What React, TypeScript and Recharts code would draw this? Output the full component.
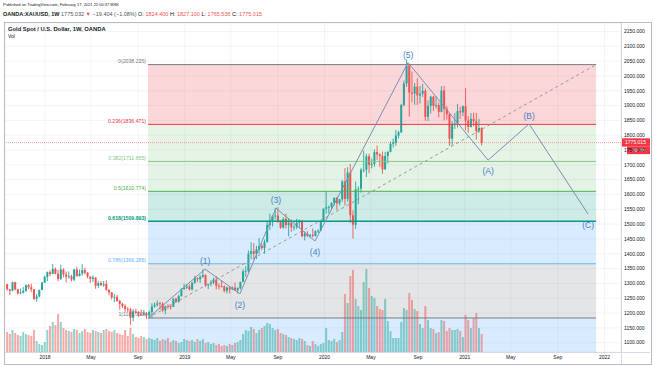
import React from 'react';
import {
  ComposedChart, Bar, Line, XAxis, YAxis, CartesianGrid,
  ReferenceArea, ReferenceLine, LabelList,
} from 'recharts';

// ---------- time helpers ----------
const EPOCH = Date.UTC(2018, 0, 1);
const toDay = (s: string) => Math.round((Date.parse(s + 'T00:00:00Z') - EPOCH) / 86400000);

// ---------- weekly candles (OANDA:XAUUSD, 1W) ----------
const FIRST_WEEK = '2017-09-25';
const ohlc: [number, number, number, number][] = [
  [1297, 1298, 1276, 1280], [1280, 1282, 1261, 1275], [1275, 1306, 1274, 1304], [1304, 1306, 1277, 1280],
  [1280, 1282, 1263, 1266], [1266, 1283, 1264, 1269], [1269, 1288, 1266, 1275], [1275, 1296, 1271, 1294],
  [1294, 1298, 1280, 1287], [1287, 1299, 1271, 1280], [1280, 1281, 1243, 1248], [1248, 1265, 1238, 1256],
  [1256, 1279, 1253, 1278], [1278, 1305, 1277, 1303],
  // 2018
  [1303, 1326, 1301, 1322], [1322, 1340, 1307, 1338], [1338, 1344, 1325, 1332], [1332, 1366, 1331, 1349],
  [1349, 1354, 1331, 1333], [1333, 1346, 1307, 1315], [1315, 1362, 1311, 1347], [1347, 1351, 1320, 1330],
  [1330, 1340, 1303, 1323], [1323, 1340, 1316, 1324], [1324, 1329, 1307, 1313], [1313, 1349, 1308, 1347],
  [1347, 1356, 1322, 1325], [1325, 1347, 1323, 1333], [1333, 1365, 1326, 1345], [1345, 1353, 1330, 1336],
  [1336, 1338, 1317, 1323], [1323, 1324, 1302, 1315], [1315, 1327, 1305, 1320], [1320, 1321, 1282, 1292],
  [1292, 1308, 1284, 1301], [1301, 1308, 1291, 1294], [1294, 1308, 1288, 1298], [1298, 1310, 1275, 1278],
  [1278, 1280, 1260, 1270], [1270, 1271, 1246, 1253], [1253, 1265, 1237, 1255], [1255, 1262, 1238, 1241],
  [1241, 1245, 1211, 1231], [1231, 1235, 1217, 1223], [1223, 1230, 1204, 1214], [1214, 1220, 1203, 1212],
  [1212, 1218, 1160, 1184], [1184, 1214, 1172, 1206], [1206, 1215, 1196, 1201], [1201, 1207, 1187, 1198],
  [1198, 1212, 1191, 1194], [1194, 1211, 1193, 1199], [1199, 1204, 1180, 1192], [1192, 1208, 1182, 1203],
  [1203, 1233, 1183, 1222], [1222, 1236, 1218, 1228], [1228, 1243, 1222, 1233], [1233, 1238, 1212, 1232],
  [1232, 1237, 1203, 1209], [1209, 1225, 1196, 1223], [1223, 1231, 1214, 1222], [1222, 1229, 1212, 1221],
  [1221, 1250, 1221, 1248], [1248, 1252, 1236, 1238], [1238, 1262, 1235, 1257], [1257, 1284, 1256, 1280],
  [1280, 1299, 1280, 1286],
  // 2019
  [1286, 1298, 1281, 1290], [1290, 1297, 1276, 1280], [1280, 1304, 1276, 1303], [1303, 1326, 1298, 1318],
  [1318, 1320, 1305, 1314], [1314, 1328, 1302, 1322], [1322, 1347, 1319, 1328], [1328, 1331, 1288, 1294],
  [1294, 1299, 1281, 1298], [1298, 1311, 1290, 1303], [1303, 1320, 1297, 1313], [1313, 1325, 1280, 1292],
  [1292, 1300, 1280, 1291], [1291, 1311, 1286, 1290], [1290, 1293, 1270, 1275], [1275, 1289, 1266, 1286],
  [1286, 1289, 1266, 1280], [1280, 1290, 1277, 1286], [1286, 1303, 1274, 1277], [1277, 1287, 1266, 1284],
  [1284, 1306, 1279, 1305], [1305, 1348, 1305, 1341], [1341, 1358, 1322, 1342], [1342, 1411, 1337, 1400],
  [1400, 1439, 1382, 1409], [1409, 1436, 1381, 1400], [1400, 1427, 1382, 1415], [1415, 1453, 1400, 1426],
  [1426, 1434, 1412, 1419], [1419, 1448, 1400, 1440], [1440, 1510, 1437, 1497], [1497, 1535, 1480, 1513],
  [1513, 1531, 1492, 1527], [1527, 1555, 1516, 1529], [1529, 1557, 1505, 1507], [1507, 1513, 1484, 1488],
  [1488, 1523, 1485, 1517], [1517, 1535, 1485, 1497], [1497, 1519, 1459, 1505], [1505, 1516, 1474, 1489],
  [1489, 1499, 1478, 1490], [1490, 1518, 1483, 1505], [1505, 1516, 1486, 1511], [1511, 1514, 1456, 1459],
  [1459, 1476, 1445, 1468], [1468, 1476, 1456, 1461], [1461, 1466, 1453, 1464], [1464, 1485, 1455, 1460],
  [1460, 1479, 1458, 1476], [1476, 1483, 1470, 1478], [1478, 1514, 1476, 1511], [1511, 1553, 1508, 1552],
  // 2020
  [1552, 1611, 1535, 1557], [1557, 1563, 1536, 1558], [1558, 1574, 1550, 1571], [1571, 1590, 1563, 1589],
  [1589, 1592, 1548, 1570], [1570, 1585, 1563, 1584], [1584, 1649, 1576, 1644], [1644, 1689, 1563, 1585],
  [1585, 1692, 1576, 1674], [1674, 1703, 1504, 1530], [1530, 1547, 1451, 1498], [1498, 1644, 1484, 1617],
  [1617, 1627, 1567, 1620], [1620, 1690, 1606, 1683], [1683, 1747, 1675, 1684], [1684, 1738, 1659, 1729],
  [1729, 1738, 1672, 1700], [1700, 1722, 1688, 1703], [1703, 1752, 1694, 1743], [1743, 1765, 1717, 1735],
  [1735, 1739, 1693, 1730], [1730, 1745, 1670, 1685], [1685, 1744, 1683, 1730], [1730, 1746, 1705, 1744],
  [1744, 1779, 1742, 1771], [1771, 1789, 1758, 1775], [1775, 1818, 1764, 1799], [1799, 1815, 1789, 1810],
  [1810, 1906, 1807, 1902], [1902, 1984, 1897, 1975], [1975, 2055, 1963, 2035], [2035, 2039, 1863, 1944],
  [1944, 2015, 1911, 1940], [1940, 1976, 1903, 1964], [1964, 1992, 1902, 1934], [1934, 1966, 1907, 1940],
  [1940, 1973, 1929, 1950], [1950, 1957, 1849, 1862], [1862, 1917, 1848, 1899], [1899, 1933, 1873, 1930],
  [1930, 1933, 1882, 1899], [1899, 1932, 1890, 1902], [1902, 1911, 1860, 1879], [1879, 1965, 1877, 1951],
  [1951, 1966, 1850, 1889], [1889, 1898, 1853, 1871], [1871, 1875, 1764, 1788], [1788, 1848, 1765, 1838],
  [1838, 1875, 1821, 1839], [1839, 1906, 1826, 1881], [1881, 1896, 1855, 1877], [1877, 1900, 1864, 1898],
  // 2021
  [1898, 1959, 1817, 1849], [1849, 1864, 1808, 1828], [1828, 1875, 1826, 1855], [1855, 1876, 1830, 1847],
  [1847, 1875, 1785, 1814], [1814, 1855, 1808, 1824], [1824.4, 1827.1, 1765.536, 1775.015],
];

const volume: number[] = [
  20, 18, 22, 19, 17, 16, 20, 18, 17, 16, 22, 11, 8, 7,
  10, 22, 26, 30, 27, 38, 30, 24,
  22, 21, 20, 23, 22, 19, 21, 23, 20, 19, 22, 21, 20, 19, 22, 23, 21, 20, 22,
  19, 18, 17, 22, 16, 24, 18, 15, 14, 16, 15, 13,
  14, 13, 12, 14, 11, 13, 12, 14, 10, 12, 11, 9, 10, 13, 12, 11, 12, 10, 13,
  11, 13, 9, 10, 8, 9, 7, 8, 6, 7, 6, 8, 7, 9, 10, 12,
  18, 22, 21, 25, 23, 19, 22, 24,
  26, 29, 28, 24, 22, 23, 19, 18, 17, 15,
  14, 13, 12, 14, 13, 11, 7, 6, 11, 8, 6, 8, 9, 24, 12, 11, 13, 10, 12,
  20, 58, 49, 76, 82, 53, 46, 42, 70, 83, 64, 56, 54, 46, 43, 42, 53, 31, 21, 14, 14, 14,
  30, 44, 42, 59, 52, 43, 41, 28, 24, 46, 32, 24, 23, 19, 20, 32, 31, 21, 24, 22, 22, 23, 21, 15,
  37, 32, 24, 34, 39, 24, 18,
];

// ---------- axes ----------
const monthTickDates = ['2018-01-01', '2018-05-01', '2018-09-01', '2019-01-01', '2019-05-01', '2019-09-01',
  '2020-01-01', '2020-05-01', '2020-09-01', '2021-01-01', '2021-05-01', '2021-09-01', '2022-01-01'];
const monthTickLabels = ['2018', 'May', 'Sep', '2019', 'May', 'Sep', '2020', 'May', 'Sep', '2021', 'May', 'Sep', '2022'];
const priceTicks = [1100, 1150, 1200, 1250, 1300, 1350, 1400, 1450, 1500, 1550, 1600, 1650, 1700,
  1750, 1800, 1850, 1900, 1950, 2000, 2050, 2100, 2150];

// ---------- fibonacci retracement ----------
const fibRatios = [0, 0.236, 0.382, 0.5, 0.618, 0.786, 1];
const fibPrices = [2038.235, 1836.471, 1711.655, 1610.774, 1509.893, 1366.286, 1183.313];
const fibStartDate = '2018-09-27';
const fibEndDate = '2021-12-10';

// ---------- Elliott wave count ----------
const waveDates = ['2018-09-27', '2019-02-23', '2019-05-25', '2019-08-27', '2019-12-07',
  '2020-08-06', '2021-03-03', '2021-06-18', '2021-11-19'];
const wavePrices = [1183, 1348, 1265, 1554, 1443, 2045, 1716, 1838, 1534];
const waveLabels = ['', '(1)', '(2)', '(3)', '(4)', '(5)', '(A)', '(B)', '(C)'];

// ---------- styling ----------
const UP = '#26a69a';
const DOWN = '#ef5350';
const VOL_UP = 'rgba(38,166,154,0.5)';
const VOL_DOWN = 'rgba(239,83,80,0.5)';
const FIB_LINE = ['#787b86', '#f23645', '#81c784', '#4caf50', '#089981', '#64b5f6', '#787b86'];
const FIB_FILL = [
  'rgba(242,54,69,0.2)', 'rgba(129,199,132,0.2)', 'rgba(76,175,80,0.15)', 'rgba(8,153,129,0.2)',
  'rgba(100,181,246,0.25)', 'rgba(120,123,134,0.2)', 'rgba(100,181,246,0.25)',
];
const WAVE_LINE = '#7b8fb3';
const WAVE_TEXT = '#4a7fc8';
const FONT = '"Liberation Sans", Arial, sans-serif';

const X_MIN = -104.5;
const X_MAX = 1504;
const P_MIN = 1068.6;
const P_MAX = 2178.6;

// ---------- derived tables ----------
const candles = ohlc.map(([o, h, l, c], i) => ({ day: toDay(FIRST_WEEK) + 7 * i, o, h, l, c, vol: volume[i] }));
const tickDays = monthTickDates.map(toDay);
const tickLabelOf = (d: number) => monthTickLabels[tickDays.indexOf(d)] ?? '';
const fibX1 = toDay(fibStartDate);
const fibX2 = toDay(fibEndDate);
const waveData = waveDates.map((d, i) => ({ day: toDay(d), price: wavePrices[i], label: waveLabels[i] }));
const diagData = [
  { day: fibX1, price: fibPrices[fibPrices.length - 1] },
  { day: fibX2, price: fibPrices[0] },
];
const last = ohlc[ohlc.length - 1];
const lastClose = last[3];
const priceRange = (d: any) => [d.l, d.h];

// ---------- shapes ----------
const Candle = (props: any) => {
  const { x, y, width, height, payload } = props;
  if (x == null || y == null) return null;
  const { o, h, l, c } = payload;
  const top = Math.min(y, y + height);
  const bot = Math.max(y, y + height);
  const span = h - l || 1;
  const py = (v: number) => top + ((h - v) / span) * (bot - top);
  const color = c >= o ? UP : DOWN;
  const cx = x + width / 2;
  const bt = py(Math.max(o, c));
  const bb = py(Math.min(o, c));
  return (
    <g>
      <line x1={cx} x2={cx} y1={top} y2={bot} stroke={color} strokeWidth={0.9} />
      <rect x={x} y={bt} width={width} height={Math.max(0.8, bb - bt)} fill={color} />
    </g>
  );
};

const VolBar = (props: any) => {
  const { x, y, width, height, payload } = props;
  if (x == null || y == null) return null;
  return <rect x={x} y={Math.min(y, y + height)} width={width} height={Math.abs(height)}
    fill={payload.c >= payload.o ? VOL_UP : VOL_DOWN} />;
};

const FibLabel = (props: any) => {
  const { viewBox, text, color, bold } = props;
  if (!viewBox) return null;
  return (
    <text x={viewBox.x - 2} y={viewBox.y - 1.6} textAnchor="end" fontSize={5.2}
      fill={color} fontWeight={bold ? 'bold' : 'normal'} fontFamily={FONT}>{text}</text>
  );
};

const WaveLabel = (props: any) => {
  const { x, y, value } = props;
  if (!value) return null;
  const i = waveLabels.indexOf(value);
  const cur = wavePrices[i];
  const prev = wavePrices[i - 1];
  const next = wavePrices[i + 1];
  const peak = (prev === undefined || cur > prev) && (next === undefined || cur > next);
  return (
    <text x={x} y={peak ? y - 5 : y + 14} textAnchor="middle" fontSize={8.5}
      fill={WAVE_TEXT} fontFamily={FONT}>{value}</text>
  );
};

const PriceTag = (props: any) => {
  const { viewBox } = props;
  if (!viewBox) return null;
  const x = viewBox.x + viewBox.width;
  const y = viewBox.y;
  return (
    <g fontFamily={FONT}>
      <rect x={x} y={y - 4.3} width={29} height={8.3} fill="#f23645" />
      <text x={x + 14.5} y={y + 1.8} textAnchor="middle" fontSize={5} fill="#ffffff">{lastClose.toFixed(3)}</text>
      <rect x={x + 6} y={y + 4} width={23} height={7.5} fill="#f23645" />
      <text x={x + 17.5} y={y + 9.6} textAnchor="middle" fontSize={5} fill="#ffffff">3d 3h</text>
    </g>
  );
};

// ---------- app ----------
export default function App() {
  const red = { color: '#ef5350' };
  return (
    <div style={{ position: 'absolute', left: 0, top: 0, width: 654, height: 366, background: '#ffffff',
      overflow: 'hidden', fontFamily: FONT, color: '#131722' }}>
      <div style={{ position: 'absolute', left: 3, top: 3, fontSize: 4, lineHeight: '4px', whiteSpace: 'nowrap' }}>
        Published on TradingView.com, February 17, 2021 22:00:37 MSK
      </div>
      <div style={{ position: 'absolute', left: 3, top: 11, fontSize: 5.5, lineHeight: '6px', whiteSpace: 'nowrap' }}>
        <b>OANDA:XAUUSD, 1W</b>{' '}
        <span style={{ color: '#50535e' }}>1775.032</span>{' '}
        <span style={red}>▼</span>{' '}
        <span style={{ color: '#50535e' }}>−19.404 (−1.08%)</span>{' '}
        O: <span style={red}>1824.400</span> H: <span style={red}>1827.100</span>{' '}
        L: <span style={red}>1765.536</span> C: <span style={red}>1775.015</span>
      </div>

      <div style={{ position: 'absolute', left: 5, top: 23 }}>
        <ComposedChart width={645} height={340} data={candles}
          margin={{ top: 0, right: 0, bottom: 0, left: 0 }} style={{ fontFamily: FONT }}>
          <CartesianGrid xAxisId="t" yAxisId="p" stroke="#eef1f6" strokeWidth={0.8} />
          <XAxis xAxisId="t" dataKey="day" type="number" domain={[X_MIN, X_MAX]} allowDataOverflow
            ticks={tickDays} interval={0} tickFormatter={tickLabelOf} height={11}
            tick={{ fontSize: 5, fill: '#131722' }} tickLine={false} tickSize={0} tickMargin={3} axisLine={false} />
          <XAxis xAxisId="vx" dataKey="day" type="number" domain={[X_MIN, X_MAX]} allowDataOverflow hide />
          <XAxis xAxisId="w" dataKey="day" type="number" domain={[X_MIN, X_MAX]} allowDataOverflow hide />
          <YAxis yAxisId="p" orientation="right" type="number" domain={[P_MIN, P_MAX]} allowDataOverflow
            ticks={priceTicks} interval={0} width={29} tickFormatter={(v: number) => v.toFixed(3)}
            tick={{ fontSize: 5, fill: '#131722' }} tickLine={false} tickSize={0} tickMargin={3} axisLine={false} />
          <YAxis yAxisId="v" hide type="number" domain={[0, 329]} allowDataOverflow />

          {fibPrices.map((p, i) => (
            <ReferenceArea key={'fa' + i} xAxisId="t" yAxisId="p" x1={fibX1} x2={fibX2}
              y1={i === fibPrices.length - 1 ? P_MIN : fibPrices[i + 1]} y2={i === fibPrices.length - 1 ? p : p}
              fill={FIB_FILL[i]} fillOpacity={1} stroke="none" ifOverflow="hidden" />
          )).map((el, i) => {
            // zone i lies between level i and level i+1 (last zone extends below level 1)
            const hi = i === 0 ? fibPrices[0] : fibPrices[i];
            const lo = i < fibPrices.length - 1 ? fibPrices[i + 1] : P_MIN;
            return React.cloneElement(el, { y1: lo, y2: hi, fill: FIB_FILL[i] });
          })}

          <Bar xAxisId="vx" yAxisId="v" dataKey="vol" barSize={2} shape={VolBar} isAnimationActive={false} />
          <Bar xAxisId="t" yAxisId="p" dataKey={priceRange} barSize={2} shape={Candle} isAnimationActive={false} />

          {fibPrices.map((p, i) => (
            <ReferenceLine key={'fl' + i} xAxisId="t" yAxisId="p"
              segment={[{ x: fibX1, y: p }, { x: fibX2, y: p }]}
              stroke={FIB_LINE[i]} strokeWidth={fibRatios[i] === 0.618 ? 1.5 : 1}
              label={<FibLabel text={`${fibRatios[i]}(${p.toFixed(3)})`} color={FIB_LINE[i]} bold={fibRatios[i] === 0.618} />} />
          ))}

          <Line xAxisId="w" yAxisId="p" data={diagData} dataKey="price" type="linear" stroke="#9598a1"
            strokeWidth={1} strokeDasharray="3 3" dot={false} activeDot={false} isAnimationActive={false} />
          <Line xAxisId="w" yAxisId="p" data={waveData} dataKey="price" type="linear" stroke={WAVE_LINE}
            strokeWidth={1} dot={false} activeDot={false} isAnimationActive={false}>
            <LabelList dataKey="label" content={<WaveLabel />} />
          </Line>

          <ReferenceLine xAxisId="t" yAxisId="p" y={lastClose} stroke="#f23645" strokeOpacity={0.6}
            strokeWidth={0.8} strokeDasharray="1 1" label={<PriceTag />} />
        </ComposedChart>
      </div>

      {/* pane frame and separators */}
      <div style={{ position: 'absolute', left: 4, top: 22, width: 646, height: 341, border: '1px solid #b8bcc6', pointerEvents: 'none' }} />
      <div style={{ position: 'absolute', left: 621, top: 23, width: 1, height: 341, background: '#d6d9e0' }} />
      <div style={{ position: 'absolute', left: 5, top: 352, width: 645, height: 1, background: '#d6d9e0' }} />

      <div style={{ position: 'absolute', left: 8, top: 26, fontSize: 5.8, lineHeight: '6px', fontWeight: 'bold', whiteSpace: 'nowrap' }}>
        Gold Spot / U.S. Dollar, 1W, OANDA
      </div>
      <div style={{ position: 'absolute', left: 8, top: 34, fontSize: 5, lineHeight: '5px', whiteSpace: 'nowrap' }}>
        Vol
      </div>
    </div>
  );
}
